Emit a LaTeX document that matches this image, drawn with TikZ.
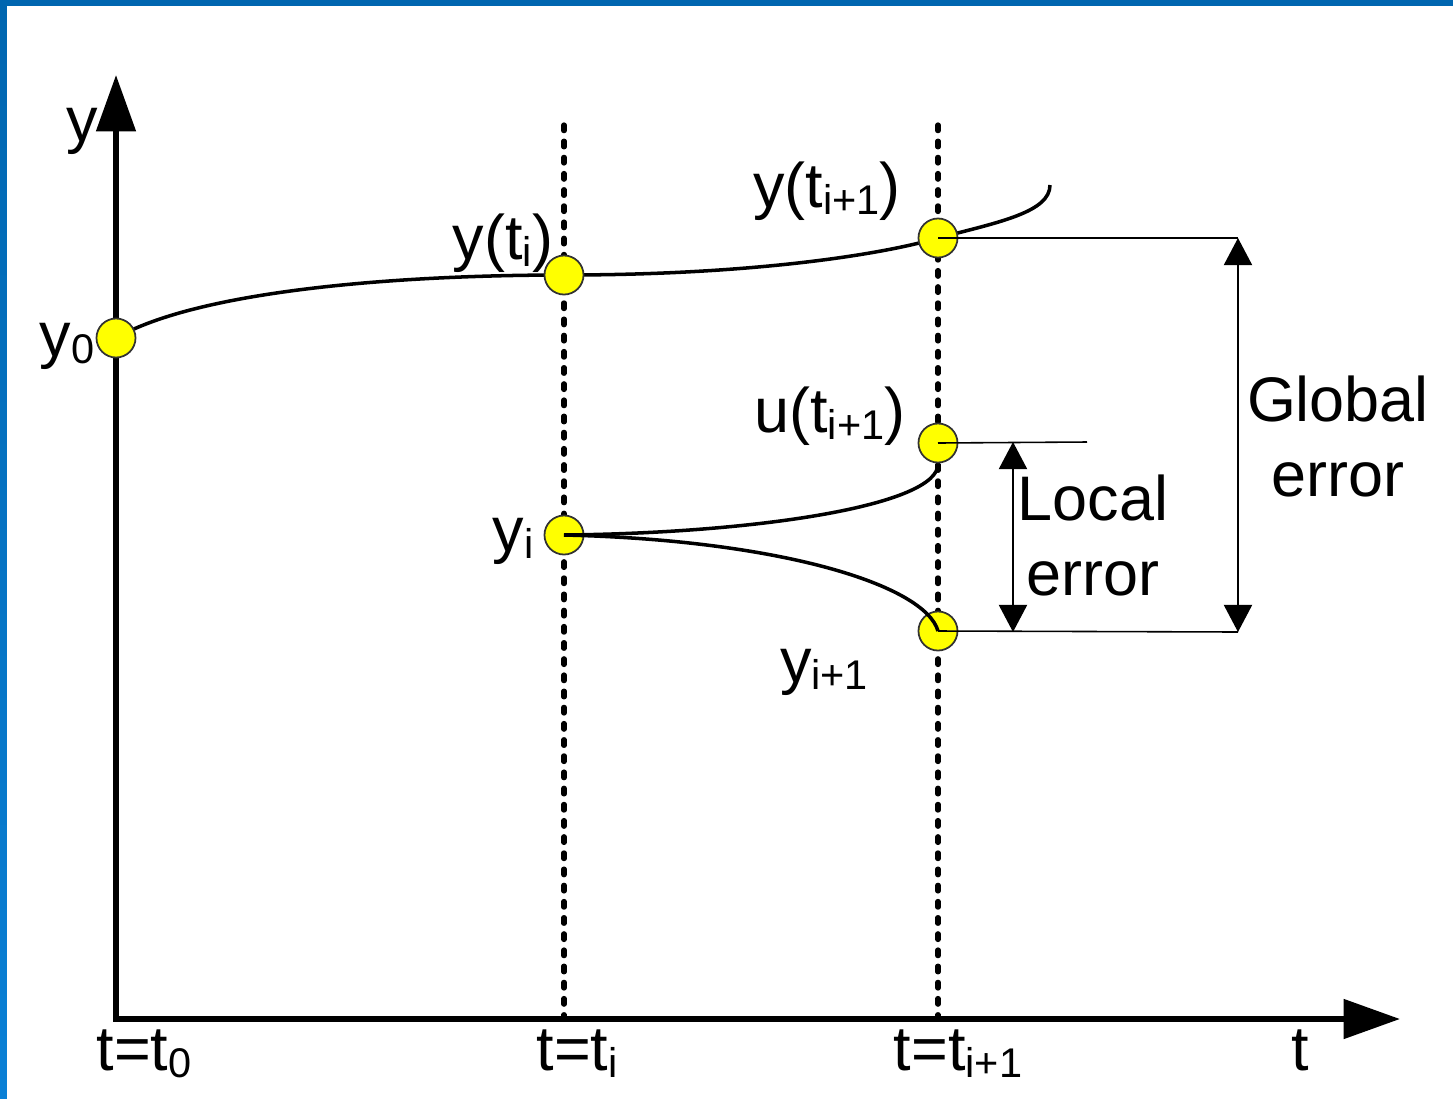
\documentclass[tikz,border=0pt]{standalone}
\usepackage{fontspec}
\setmainfont{Liberation Sans}
\usetikzlibrary{arrows.meta}
\definecolor{framebluetop}{HTML}{0066B0}
\definecolor{framebluebot}{HTML}{0A80D6}
\definecolor{markeryellow}{HTML}{FFFF00}
\newcommand{\lowsub}[1]{\raisebox{-2.2pt}{\fontsize{11.8}{14}\selectfont #1}}
\tikzset{
  axis/.style={line width=1.6pt,{Triangle[length=16pt,width=11pt]}-{Triangle[length=16pt,width=11pt]}},
  stepline/.style={line width=1.5pt,line cap=round,dash pattern=on 1.6pt off 3pt},
  solution/.style={line width=1pt},
  marker/.style={circle,draw=black!80,line width=.5pt,fill=markeryellow,minimum size=.39cm,inner sep=0pt},
  lbl/.style={font=\fontsize{17.9}{21.3}\selectfont,inner sep=0pt,anchor=base},
  guide/.style={line width=.45pt},
  errarrow/.style={line width=.45pt,{Triangle[length=7.7pt,width=8pt]}-{Triangle[length=7.7pt,width=8pt]}},
}

\begin{document}
\begin{tikzpicture}[x=0.01cm,y=-0.01cm]
    \useasboundingbox (0,0) rectangle (1453,1099);
    \fill[framebluetop] (0,0) rectangle (1453,6);
    \shade[top color=framebluetop,bottom color=framebluebot] (0,0) rectangle (7,1099);

    \coordinate (origin) at (116,1019);
    \coordinate (ytip) at (116,75);
    \coordinate (xtip) at (1400,1019);
    \coordinate (titop) at (564,125);
    \coordinate (tibot) at (564,1019);
    \coordinate (ti1top) at (938,125);
    \coordinate (ti1bot) at (938,1019);
    \coordinate (p0) at (116,338);
    \coordinate (pti) at (564,275);
    \coordinate (pti1) at (938,238);
    \coordinate (yend) at (1050,185);

    \draw[stepline] (titop) -- (tibot);
    \draw[stepline] (ti1top) -- (ti1bot);
    \draw[axis] (ytip) -- (origin) -- (xtip);
    \draw[solution] (p0) .. controls (200,290) and (400,275) .. (pti)
      .. controls (750,275) and (880,255) .. (pti1)
      .. controls (1000,222) and (1050,212) .. (yend);

    \node[marker] (y0) at (p0) {};
    \node[marker] (yti) at (pti) {};
    \node[marker] (yt1) at (pti1) {};
    \node[marker] (un1) at (938,443) {};
    \node[marker] (yi) at (564,535) {};
    \node[marker] (yn1) at (938,631) {};

    \draw[solution] (yi.center) .. controls (760,533) and (938,505) .. ([yshift=-6]un1.center);
    \draw[solution] (yi.center) .. controls (780,540) and (925,585) .. (yn1.center);

    \coordinate (gtop) at (1238,238);
    \coordinate (gbot) at (1238,632);
    \coordinate (lend) at (1087,442);
    \coordinate (ltop) at (1013,442);
    \coordinate (lbot) at (1013,632);
    \draw[guide] (yt1.center) -- (gtop);
    \draw[guide] (un1.center) -- (lend);
    \draw[guide] (yn1.center) -- (gbot);
    \draw[errarrow] (gtop) -- (gbot);
    \draw[errarrow] (ltop) -- (lbot);

    \node[lbl] (ylab) at (82,141) {y};
    \node[lbl] (y0lab) at (67,356) {y\lowsub{0}};
    \node[lbl] (ytilab) at (503,259) {y(t\lowsub{i})};
    \node[lbl] (yt1lab) at (827,207) {y(t\lowsub{i+1})};
    \node[lbl] (un1lab) at (830,432) {u(t\lowsub{i+1})};
    \node[lbl] (yilab) at (513,551) {y\lowsub{i}};
    \node[lbl] (yn1lab) at (824,682) {y\lowsub{i+1}};
    \node[lbl,align=center] (globlab) at (1338,496) {Global\\error};
    \node[lbl,align=center] (loclab) at (1093,595) {Local\\error};
    \node[lbl] (t0lab) at (144,1070) {t=t\lowsub{0}};
    \node[lbl] (tilab) at (577,1070) {t=t\lowsub{i}};
    \node[lbl] (ti1lab) at (958,1070) {t=t\lowsub{i+1}};
    \node[lbl] (tlab) at (1300,1070) {t};
\end{tikzpicture}
\end{document}
